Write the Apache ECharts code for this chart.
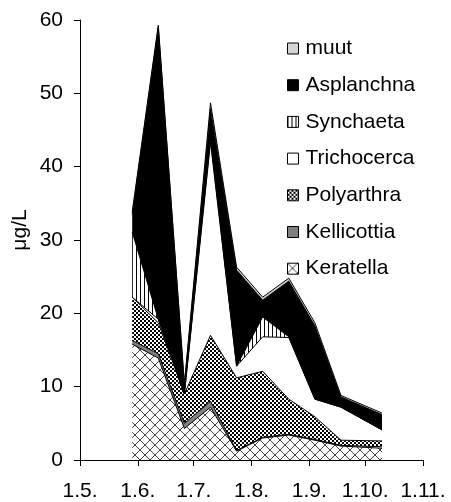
<!DOCTYPE html>
<html>
<head>
<meta charset="utf-8">
<script src="https://cdn.jsdelivr.net/npm/echarts@6/dist/echarts.min.js"></script>
<style>
html,body{margin:0;padding:0;background:#fff;}
#chart{width:451px;height:502px;}
</style>
</head>
<body>
<div id="chart"></div>
<script>
// ---- data ----
const dates = ['2010-05-29','2010-06-12','2010-06-26','2010-07-10','2010-07-24','2010-08-07','2010-08-21','2010-09-04','2010-09-18','2010-10-10'];
const keratella   = [15.8, 13.9, 4.3, 7.2, 1.2, 3.0, 3.4, 2.7, 1.9, 1.6];
const kellicottia = [0.5, 0.6, 0.7, 0.8, 0.1, 0.1, 0.1, 0.1, 0.1, 0.2];
const polyarthra  = [5.9, 4.2, 4.0, 9.0, 9.9, 9.0, 4.8, 3.1, 0.7, 0.8];
const trichocerca = [0.0, 0.5, 0.0, 26.3, 1.6, 4.7, 8.4, 2.4, 4.5, 1.5];
const synchaeta   = [8.9, 0.0, 0.0, 0.5, 0.0, 2.7, 0.1, 0.0, 0.0, 0.0];
const asplanchna  = [2.4, 39.8, 1.2, 4.1, 13.1, 2.3, 7.6, 10.0, 1.4, 2.1];
const muut        = [0.3, 0.3, 0.2, 0.8, 0.4, 0.4, 0.4, 0.4, 0.2, 0.2];
const seriesNames = ['Keratella','Kellicottia','Polyarthra','Trichocerca','Synchaeta','Asplanchna','muut'];
const axisMin = '2010-05-01';
const axisMax = '2010-11-01';
const yTicks = {min: 0, max: 60, interval: 10};
const yName = 'μg/L';

// ---- patterns ----
function tile(w, h, draw) {
  const c = document.createElement('canvas');
  c.width = w; c.height = h;
  const g = c.getContext('2d');
  g.fillStyle = '#fff'; g.fillRect(0, 0, w, h);
  draw(g);
  return {image: c, repeat: 'repeat'};
}
const patKeratella = tile(10, 10, g => {
  g.strokeStyle = '#444'; g.lineWidth = 1;
  g.beginPath(); g.moveTo(0, 0); g.lineTo(10, 10); g.moveTo(10, 0); g.lineTo(0, 10); g.stroke();
});
const patPolyarthra = tile(4, 4, g => {
  g.fillStyle = '#000'; g.fillRect(0, 0, 2, 2); g.fillRect(2, 2, 2, 2);
});
const patSynchaeta = tile(4, 4, g => {
  g.fillStyle = '#000'; g.fillRect(0, 0, 1, 4);
});
const fills = {
  Keratella: patKeratella,
  Kellicottia: '#808080',
  Polyarthra: patPolyarthra,
  Trichocerca: '#ffffff',
  Synchaeta: patSynchaeta,
  Asplanchna: '#000000',
  muut: '#d4d4d4'
};
const values = {Keratella: keratella, Kellicottia: kellicottia, Polyarthra: polyarthra,
  Trichocerca: trichocerca, Synchaeta: synchaeta, Asplanchna: asplanchna, muut: muut};

const FONT = 'Liberation Sans, Arial, sans-serif';
const chart = echarts.init(document.getElementById('chart'), null, {renderer: 'canvas'});
chart.setOption({
  animation: false,
  backgroundColor: '#fff',
  grid: {left: 80, right: 28, top: 20, bottom: 40, containLabel: false},
  xAxis: {
    type: 'time', min: axisMin, max: axisMax, splitNumber: 6,
    minInterval: 28 * 864e5, maxInterval: 31 * 864e5,
    axisLine: {show: true, lineStyle: {color: '#000', width: 1}},
    axisTick: {show: true, length: 6, lineStyle: {color: '#000'}},
    splitLine: {show: false},
    axisLabel: {
      color: '#000', fontFamily: FONT, fontSize: 21, margin: 21,
      showMinLabel: true, showMaxLabel: true, hideOverlap: false,
      formatter: v => { const d = new Date(v); return d.getDate() + '.' + (d.getMonth() + 1) + '.'; }
    }
  },
  yAxis: {
    type: 'value', min: yTicks.min, max: yTicks.max, interval: yTicks.interval,
    axisLine: {show: true, lineStyle: {color: '#000', width: 1}},
    axisTick: {show: true, length: 6, lineStyle: {color: '#000'}},
    splitLine: {show: false},
    axisLabel: {color: '#000', fontFamily: FONT, fontSize: 21, margin: 17}
  },
  legend: {
    orient: 'vertical', left: 282, top: 32,
    itemWidth: 11, itemHeight: 11, itemGap: 13.7,
    icon: 'rect',
    textStyle: {color: '#000', fontFamily: FONT, fontSize: 21, lineHeight: 23, padding: [0, 0, 0, 2]},
    itemStyle: {borderColor: '#000', borderWidth: 1},
    data: seriesNames.slice().reverse().map(n => ({name: n, icon: 'rect',
      itemStyle: {color: fills[n], borderColor: '#000', borderWidth: 1}}))
  },
  graphic: [{
    type: 'text', x: 20, y: 230, rotation: Math.PI / 2,
    style: {text: yName, font: '21px ' + FONT, fill: '#000', align: 'center', verticalAlign: 'middle'}
  }],
  series: seriesNames.map(n => ({
    name: n, type: 'line', stack: 'total', symbol: 'none', smooth: false,
    data: dates.map((d, i) => [d, values[n][i]]),
    lineStyle: {color: '#000', width: 1},
    areaStyle: {color: fills[n], opacity: 1},
    itemStyle: {color: fills[n], borderColor: '#000'},
    emphasis: {disabled: true}
  }))
});
</script>
</body>
</html>
